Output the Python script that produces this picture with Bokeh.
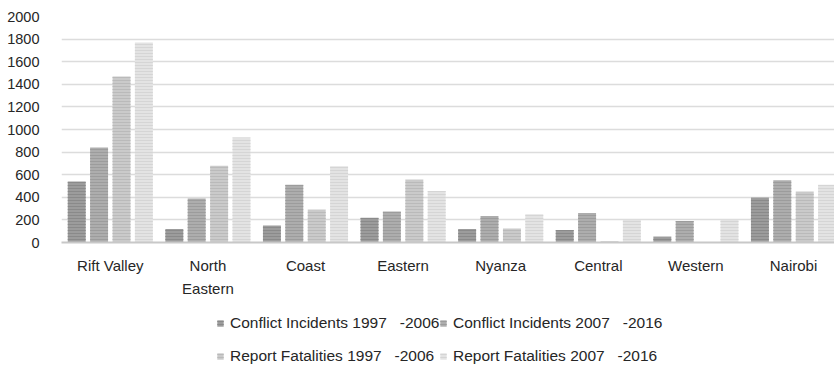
from bokeh.plotting import figure
from bokeh.layouts import column
from bokeh.models import (ColumnDataSource, Range1d, FixedTicker, Legend, LegendItem)
from bokeh.transform import dodge
from bokeh.embed import file_html
from bokeh.resources import INLINE

# Conflict data by Kenyan region
regions = ["Rift Valley", "North Eastern", "Coast", "Eastern", "Nyanza", "Central", "Western", "Nairobi"]
incidents_1997_2006 = [540, 120, 150, 220, 120, 110, 50, 395]
incidents_2007_2016 = [840, 390, 510, 275, 235, 260, 190, 550]
fatalities_1997_2006 = [1470, 680, 290, 555, 125, 10, 5, 450]
fatalities_2007_2016 = [1770, 930, 675, 455, 250, 200, 200, 510]
series_names = ["Conflict Incidents 1997   -2006", "Conflict Incidents 2007   -2016",
                "Report Fatalities 1997   -2006", "Report Fatalities 2007   -2016"]
y_ticks = list(range(0, 2001, 200))

FONT = "Liberation Sans"
fills = ["#9c9c9c", "#adadad", "#cacaca", "#e3e3e3"]
hatches = ["#8a8a8a", "#9c9c9c", "#bababa", "#d5d5d5"]
offsets = [-0.344, -0.115, 0.115, 0.344]

src = ColumnDataSource(dict(
    xc=[i + 0.5 for i in range(len(regions))],
    s0=incidents_1997_2006, s1=incidents_2007_2016,
    s2=fatalities_1997_2006, s3=fatalities_2007_2016,
))

p = figure(frame_width=773, frame_height=226, x_range=Range1d(0, 7.92), y_range=Range1d(0, 2000),
           output_backend="svg", toolbar_location=None,
           min_border_left=61, min_border_right=0, min_border_top=16, min_border_bottom=60)
p.outline_line_color = None
p.background_fill_color = "white"

bar_style = []
for k in range(4):
    style = dict(fill_color=fills[k], line_color=None,
                 hatch_pattern="horizontal_line", hatch_color=hatches[k],
                 hatch_scale=3, hatch_weight=1)
    bar_style.append(style)
    p.vbar(x=dodge("xc", offsets[k]), top="s%d" % k, width=0.184, source=src, **style)

# axes
p.xaxis.ticker = FixedTicker(ticks=[i + 0.5 for i in range(len(regions))])
p.xaxis.major_label_overrides = {i + 0.5: name.replace("North ", "North\n") for i, name in enumerate(regions)}
p.xaxis.axis_line_color = "#c8c8c8"
p.xaxis.axis_line_width = 2
p.xaxis.major_tick_line_color = None
p.xaxis.minor_tick_line_color = None
p.xaxis.major_label_standoff = 8
p.xaxis.major_label_text_font = FONT
p.xaxis.major_label_text_font_size = "15px"
p.xaxis.major_label_text_line_height = 1.36
p.xaxis.major_label_text_color = "#262626"

p.yaxis.ticker = FixedTicker(ticks=y_ticks)
p.yaxis.axis_line_color = None
p.yaxis.major_tick_line_color = None
p.yaxis.minor_tick_line_color = None
p.yaxis.major_label_standoff = 16
p.yaxis.major_label_text_font = FONT
p.yaxis.major_label_text_font_size = "14.5px"
p.yaxis.major_label_text_color = "#262626"

p.xgrid.grid_line_color = None
p.ygrid.ticker = FixedTicker(ticks=y_ticks)
p.ygrid.grid_line_color = "#dcdcdc"
p.ygrid.grid_line_width = 1.5

# legend strip under the chart: swatches reuse the bar styles
leg = figure(width=834, height=64, x_range=Range1d(0, 1), y_range=Range1d(0, 1),
             output_backend="svg", toolbar_location=None,
             min_border_left=0, min_border_right=0, min_border_top=0, min_border_bottom=0)
leg.axis.visible = False
leg.grid.visible = False
leg.outline_line_color = None
swatch_src = ColumnDataSource(dict(x=[-5.0], top=[0.0]))
items = []
for k in range(4):
    r = leg.vbar(x="x", top="top", width=0.1, source=swatch_src, **bar_style[k])
    items.append(LegendItem(label=series_names[k], renderers=[r]))

# two legend columns: 1997-2006 series on the left, 2007-2016 on the right
for col_items, x0 in ((items[0::2], 155), (items[1::2], 378)):
    lg = Legend(items=col_items, location=(x0, -1), orientation="vertical",
                label_text_font=FONT, label_text_font_size="15.5px", label_text_color="#262626",
                glyph_width=8, glyph_height=8, label_standoff=6, spacing=11, label_height=22,
                padding=0, margin=0, border_line_color=None, background_fill_alpha=0)
    leg.add_layout(lg)

open("out.html", "w").write(file_html(column(p, leg, spacing=0), INLINE))
